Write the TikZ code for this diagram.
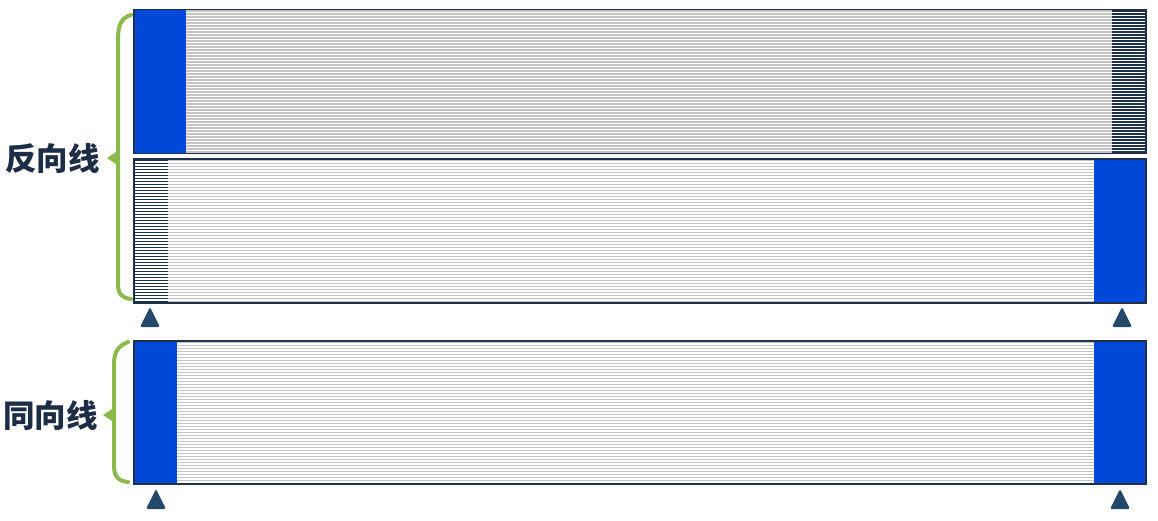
\documentclass[tikz,border=0pt]{standalone}
\usepackage{fontspec}
\newfontfamily\cjk{Noto Sans CJK SC}
\definecolor{cblue}{RGB}{0,72,215}
\definecolor{cnavy}{RGB}{31,48,74}
\definecolor{cgray}{RGB}{196,196,196}
\definecolor{cgreen}{RGB}{139,186,76}
\definecolor{ctri}{RGB}{35,72,105}
\definecolor{ctext}{RGB}{30,45,70}
\tikzset{
  graystripe/.style={cgray, line width=1.1pt},
  navystripe/.style={cnavy, line width=1.3pt},
  blueend/.style={fill=cblue},
  cableframe/.style={draw=cnavy, line width=1.1pt},
  bracepath/.style={cgreen, line width=4pt, line cap=round},
  marker/.style={fill=ctri, rounded corners=2pt},
  label/.style={font=\cjk\bfseries\fontsize{31.5}{36}\selectfont, text=ctext, inner sep=0pt}
}
\begin{document}
\begin{tikzpicture}[x=1pt,y=-1pt]
\useasboundingbox (0,0) rectangle (1158,520);
% ---- cable 1 ----
\coordinate (c1a) at (134,9.5);
\coordinate (c1b) at (1146,153.5);
\foreach \yy in {11,14,...,152} \draw[graystripe] (134,\yy) -- (1146,\yy);
\foreach \yy in {11,14,...,152} \draw[navystripe] (1112,\yy) -- (1146,\yy);
\fill[blueend] (134,9.5) rectangle (186,153.5);
\draw[cableframe] (c1a) rectangle (c1b);
% ---- cable 2 ----
\coordinate (c2a) at (134,159);
\coordinate (c2b) at (1146,303);
\foreach \yy in {160.5,163.5,...,302} \draw[graystripe] (134,\yy) -- (1146,\yy);
\foreach \yy in {160.5,163.5,...,302} \draw[navystripe] (134,\yy) -- (168,\yy);
\fill[blueend] (1094,159) rectangle (1146,303);
\draw[cableframe] (c2a) rectangle (c2b);
% ---- cable 3 ----
\coordinate (c3a) at (134,341);
\coordinate (c3b) at (1146,484);
\foreach \yy in {342.5,345.5,...,483} \draw[graystripe] (134,\yy) -- (1146,\yy);
\fill[blueend] (134,341) rectangle (177,484);
\fill[blueend] (1094,341) rectangle (1146,484);
\draw[cableframe] (c3a) rectangle (c3b);
% ---- markers ----
\foreach \cx/\cy in {150/317, 1122/317, 156/499, 1120/499}
  \fill[marker] (\cx-10,\cy+10) -- (\cx,\cy-10) -- (\cx+10,\cy+10) -- cycle;
% ---- braces ----
\draw[bracepath] (131,15) .. controls (121,18) and (118,25) .. (118,40) -- (118,284) .. controls (118,294) and (122,298) .. (131,299);
\fill[cgreen] (119,150) -- (107,158) -- (119,166) -- cycle;
\draw[bracepath] (128,342) .. controls (118,346) and (114,352) .. (114,364) -- (114,466) .. controls (114,476) and (118,481) .. (128,482);
\fill[cgreen] (115,407) -- (103,415) -- (115,423) -- cycle;
% ---- labels ----
\node[label, anchor=west] (lrev) at (5,158) {反向线};
\node[label, anchor=west] (lsame) at (3,415) {同向线};
\end{tikzpicture}
\end{document}
